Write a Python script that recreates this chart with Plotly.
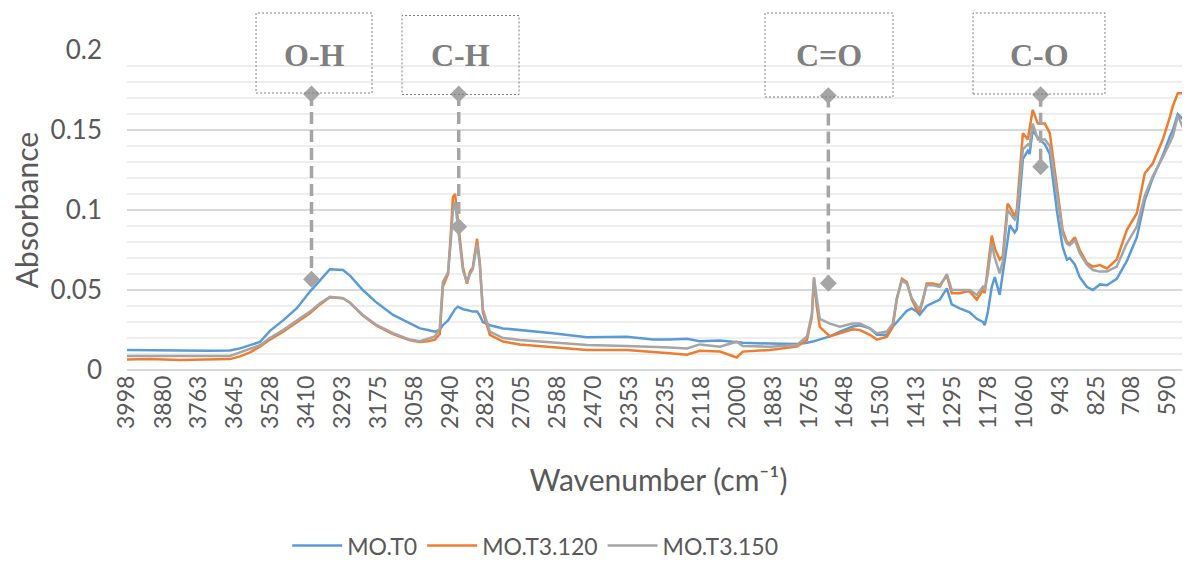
import plotly.graph_objects as go

# wavenumber grid (cm-1)
wavenumber = [
    3998, 3923, 3825, 3726, 3661, 3628, 3595, 3563, 3530, 3487,
    3442, 3399, 3366, 3334, 3291, 3268, 3226, 3180, 3127, 3072,
    3039, 3013, 2990, 2974, 2964, 2947, 2938, 2931, 2924, 2915,
    2898, 2885, 2875, 2866, 2852, 2843, 2833, 2810, 2767, 2712,
    2604, 2492, 2362, 2276, 2221, 2165, 2123, 2057, 2002, 1982,
    1894, 1805, 1772, 1756, 1749, 1740, 1730, 1697, 1664, 1622,
    1599, 1566, 1543, 1510, 1491, 1478, 1461, 1445, 1429, 1412,
    1403, 1393, 1380, 1360, 1337, 1314, 1298, 1272, 1249, 1239,
    1216, 1196, 1190, 1180, 1167, 1157, 1141, 1131, 1115, 1108,
    1092, 1085, 1065, 1049, 1043, 1033, 1016, 993, 977, 967,
    954, 944, 935, 921, 912, 895, 879, 856, 836, 813,
    790, 758, 725, 692, 666, 640, 607, 584, 574, 558,
    542, 519,
]

mo_t0 = [
    0.0125, 0.0125, 0.0122, 0.0120, 0.0122, 0.0135, 0.0155, 0.0175, 0.0245, 0.0310,
    0.0386, 0.0490, 0.0560, 0.0630, 0.0625, 0.0590, 0.0500, 0.0420, 0.0344, 0.0290,
    0.0260, 0.0250, 0.0240, 0.0250, 0.0280, 0.0310, 0.0340, 0.0360, 0.0380, 0.0396,
    0.0380, 0.0375, 0.0370, 0.0365, 0.0365, 0.0340, 0.0300, 0.0280, 0.0260, 0.0250,
    0.0230, 0.0205, 0.0208, 0.0190, 0.0190, 0.0195, 0.0180, 0.0185, 0.0175, 0.0170,
    0.0165, 0.0163, 0.0170, 0.0175, 0.0180, 0.0185, 0.0190, 0.0210, 0.0240, 0.0272,
    0.0280, 0.0260, 0.0220, 0.0220, 0.0270, 0.0300, 0.0340, 0.0370, 0.0385, 0.0365,
    0.0345, 0.0370, 0.0400, 0.0420, 0.0440, 0.0510, 0.0410, 0.0385, 0.0370, 0.0360,
    0.0320, 0.0300, 0.0280, 0.0360, 0.0520, 0.0580, 0.0470, 0.0600, 0.0830, 0.0905,
    0.0860, 0.0880, 0.1320, 0.1370, 0.1350, 0.1500, 0.1450, 0.1410, 0.1350, 0.1190,
    0.1000, 0.0875, 0.0770, 0.0690, 0.0700, 0.0660, 0.0580, 0.0520, 0.0500, 0.0535,
    0.0530, 0.0570, 0.0680, 0.0830, 0.1060, 0.1200, 0.1340, 0.1460, 0.1500, 0.1600,
    0.1570, 0.1490,
]

mo_t3_120 = [
    0.0065, 0.0068, 0.0062, 0.0065, 0.0068, 0.0085, 0.0110, 0.0145, 0.0190, 0.0240,
    0.0300, 0.0355, 0.0410, 0.0455, 0.0448, 0.0420, 0.0340, 0.0275, 0.0225, 0.0185,
    0.0175, 0.0180, 0.0190, 0.0225, 0.0520, 0.0600, 0.0850, 0.1080, 0.1100, 0.0940,
    0.0640, 0.0540, 0.0615, 0.0640, 0.0820, 0.0670, 0.0360, 0.0220, 0.0178, 0.0160,
    0.0145, 0.0125, 0.0125, 0.0115, 0.0105, 0.0095, 0.0120, 0.0115, 0.0078, 0.0115,
    0.0125, 0.0146, 0.0188, 0.0330, 0.0570, 0.0400, 0.0270, 0.0210, 0.0230, 0.0254,
    0.0250, 0.0220, 0.0190, 0.0208, 0.0270, 0.0440, 0.0570, 0.0550, 0.0440, 0.0375,
    0.0365, 0.0430, 0.0540, 0.0540, 0.0530, 0.0590, 0.0480, 0.0480, 0.0490, 0.0490,
    0.0440, 0.0500, 0.0480, 0.0650, 0.0840, 0.0760, 0.0690, 0.0710, 0.1040, 0.1020,
    0.0960, 0.1000, 0.1480, 0.1440, 0.1500, 0.1625, 0.1540, 0.1540, 0.1480, 0.1340,
    0.1146, 0.1000, 0.0875, 0.0800, 0.0790, 0.0830, 0.0750, 0.0670, 0.0646, 0.0656,
    0.0635, 0.0690, 0.0875, 0.0980, 0.1230, 0.1290, 0.1440, 0.1580, 0.1650, 0.1730,
    0.1730, 0.1680,
]

mo_t3_150 = [
    0.0088, 0.0088, 0.0085, 0.0088, 0.0088, 0.0110, 0.0135, 0.0155, 0.0200, 0.0250,
    0.0310, 0.0365, 0.0417, 0.0458, 0.0448, 0.0420, 0.0344, 0.0280, 0.0230, 0.0190,
    0.0180, 0.0195, 0.0210, 0.0260, 0.0550, 0.0610, 0.0800, 0.1000, 0.1050, 0.0900,
    0.0620, 0.0550, 0.0600, 0.0630, 0.0790, 0.0660, 0.0380, 0.0240, 0.0200, 0.0188,
    0.0170, 0.0156, 0.0150, 0.0146, 0.0140, 0.0135, 0.0160, 0.0146, 0.0177, 0.0150,
    0.0146, 0.0156, 0.0210, 0.0350, 0.0580, 0.0450, 0.0320, 0.0290, 0.0270, 0.0290,
    0.0290, 0.0260, 0.0230, 0.0240, 0.0290, 0.0450, 0.0560, 0.0540, 0.0450, 0.0400,
    0.0380, 0.0440, 0.0530, 0.0530, 0.0520, 0.0600, 0.0500, 0.0500, 0.0500, 0.0500,
    0.0470, 0.0520, 0.0500, 0.0600, 0.0790, 0.0700, 0.0604, 0.0680, 0.1000, 0.0980,
    0.0940, 0.0970, 0.1380, 0.1410, 0.1400, 0.1540, 0.1440, 0.1440, 0.1400, 0.1280,
    0.1125, 0.0980, 0.0854, 0.0790, 0.0780, 0.0810, 0.0730, 0.0660, 0.0625, 0.0615,
    0.0615, 0.0646, 0.0790, 0.0896, 0.1090, 0.1210, 0.1330, 0.1420, 0.1460, 0.1590,
    0.1520, 0.1380,
]

tick_labels = [3998, 3880, 3763, 3645, 3528, 3410, 3293, 3175, 3058, 2940,
               2823, 2705, 2588, 2470, 2353, 2235, 2118, 2000, 1883, 1765,
               1648, 1530, 1413, 1295, 1178, 1060, 943, 825, 708, 590]

# band markers (dashed pointers)
band_labels = ["O-H", "C-H", "C=O", "C-O"]
band_wn = [3394, 2912, 1702, 1007]
band_top = [0.1725, 0.1725, 0.1715, 0.1720]
band_bottom = [0.0567, 0.0896, 0.0542, 0.1270]

# -----------------------------
# Figure
# -----------------------------
TXT = "#595959"
FONT = "Lato, sans-serif"

fig = go.Figure()

series = [("MO.T0", mo_t0, "#5B9BD5"),
          ("MO.T3.120", mo_t3_120, "#ED7D31"),
          ("MO.T3.150", mo_t3_150, "#A5A5A5")]
for name, vals, col in series:
    fig.add_trace(go.Scatter(x=wavenumber, y=vals, mode="lines", name=name,
                             line=dict(color=col, width=2.5)))

for lab, wn, top, bot in zip(band_labels, band_wn, band_top, band_bottom):
    fig.add_trace(go.Scatter(x=[wn, wn], y=[top, bot], mode="lines+markers",
                             showlegend=False, hoverinfo="skip",
                             line=dict(color="#A5A5A5", width=3.5, dash="12px,6px"),
                             marker=dict(symbol="diamond", size=13, color="#A5A5A5")))

# label boxes (paper coords, drawn above the plot area)
boxes = [(0.1214, 0.2305, 0.8656, 1.1156, 0.984),
         (0.2587, 0.3688, 0.8610, 1.1078, 0.984),
         (0.6002, 0.7206, 0.8531, 1.1156, 0.984),
         (0.7959, 0.9200, 0.8625, 1.1156, 0.984)]
for lab, (x0, x1, y0, y1, ty) in zip(band_labels, boxes):
    fig.add_shape(type="rect", xref="paper", yref="paper", x0=x0, x1=x1, y0=y0, y1=y1,
                  line=dict(color="#7F7F7F", width=1, dash="2px,2px"),
                  fillcolor="rgba(255,255,255,0)")
    fig.add_annotation(x=(x0 + x1) / 2, y=ty, xref="paper", yref="paper", text=lab,
                       showarrow=False, xanchor="center", yanchor="middle",
                       font=dict(family="Liberation Serif", size=32, color="#7F7F7F",
                                 weight="bold"))

# page body keeps an 8px margin, so the figure is 8px smaller and margins shifted
fig.update_layout(
    width=1182, height=556,
    margin=dict(l=119, r=0, t=42, b=194),
    paper_bgcolor="white", plot_bgcolor="white",
    font=dict(family=FONT, color=TXT),
    legend=dict(orientation="h", x=0.384, xref="paper", y=0.033, yref="container",
                xanchor="center", yanchor="middle",
                font=dict(size=23, color=TXT), itemwidth=50),
)

fig.update_xaxes(
    range=[3998, 518], tickvals=tick_labels, ticktext=[str(t) for t in tick_labels],
    tickangle=-90, tickfont=dict(size=23, color=TXT), showgrid=False, zeroline=False,
    showline=False, ticks="", automargin=False,
    title=dict(text="Wavenumber (cm⁻¹)", font=dict(size=30, color=TXT), standoff=42),
)
fig.update_yaxes(
    range=[0, 0.2], dtick=0.05, tick0=0, tickfont=dict(size=26, color=TXT),
    showgrid=True, gridcolor="#D9D9D9", gridwidth=1.5,
    zeroline=True, zerolinecolor="#D9D9D9", zerolinewidth=1.5,
    minor=dict(dtick=0.01, showgrid=True, gridcolor="#EEEEEE", gridwidth=1.5),
    ticks="", ticklabelstandoff=24, automargin=False,
    title=dict(text="Absorbance", font=dict(size=30, color=TXT), standoff=10),
)

fig.write_html("out.html")
